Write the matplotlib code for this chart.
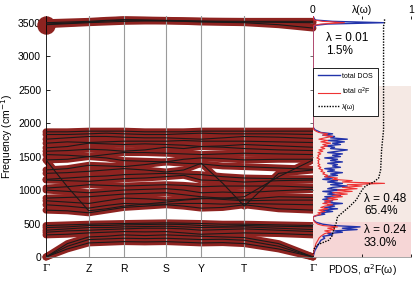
import numpy as np
import matplotlib
matplotlib.use('Agg')
import matplotlib.pyplot as plt

# ---------------- data ----------------
kpoint_labels = ['Γ', 'Z', 'R', 'S', 'Y', 'T', 'Γ']
segment_lengths = [42.7, 35.0, 42.3, 35.3, 43.0, 68.7]

# band values (cm^-1) at [Γ, mid, Z, mid, R, mid, S, mid, Y, mid, T, mid, Γ]
acoustic_bands = [
    [0, 120, 210, 220, 230, 225, 230, 220, 210, 215, 200, 120, 0],
    [0, 160, 260, 270, 280, 275, 280, 270, 260, 265, 250, 160, 0],
    [0, 200, 300, 310, 330, 320, 330, 320, 310, 300, 290, 200, 0],
]
low_bands = [
    [330, 340, 360, 370, 380, 375, 380, 360, 340, 350, 360, 350, 330],
    [370, 390, 400, 410, 420, 430, 430, 420, 400, 410, 420, 400, 380],
    [400, 420, 440, 440, 450, 455, 460, 450, 440, 445, 450, 430, 410],
    [440, 450, 470, 470, 480, 485, 490, 485, 470, 460, 470, 460, 450],
    [470, 480, 490, 495, 500, 505, 510, 505, 500, 490, 490, 480, 470],
]
mid_bands = [
    [700, 690, 660, 700, 740, 760, 780, 760, 730, 740, 780, 720, 700],
    [780, 760, 730, 770, 800, 790, 790, 800, 800, 790, 800, 790, 780],
    [840, 820, 800, 840, 880, 870, 850, 860, 880, 860, 840, 850, 850],
    [880, 890, 900, 920, 940, 950, 960, 930, 900, 880, 860, 900, 890],
    [1000, 980, 960, 980, 1000, 1010, 1020, 1000, 960, 970, 960, 990, 1010],
    [1030, 1050, 1080, 1070, 1060, 1070, 1080, 1070, 1050, 1060, 1060, 1060, 1040],
    [1450, 1050, 690, 720, 760, 790, 820, 850, 870, 880, 900, 1200, 1450],
    [1150, 1140, 1130, 1150, 1170, 1180, 1200, 1220, 1150, 1140, 1120, 1140, 1150],
    [1160, 1180, 1200, 1210, 1230, 1240, 1250, 1240, 1230, 1200, 1180, 1170, 1170],
    [1250, 1260, 1280, 1300, 1320, 1300, 1270, 1300, 1400, 1100, 760, 1250, 1300],
    [1300, 1320, 1370, 1360, 1350, 1380, 1420, 1400, 1390, 1360, 1350, 1330, 1310],
    [1450, 1460, 1500, 1480, 1440, 1430, 1420, 1460, 1480, 1470, 1450, 1460, 1460],
    [1530, 1520, 1500, 1530, 1560, 1560, 1550, 1540, 1530, 1540, 1550, 1540, 1530],
    [1580, 1590, 1610, 1600, 1580, 1600, 1640, 1620, 1650, 1640, 1620, 1600, 1590],
    [1630, 1650, 1700, 1690, 1680, 1690, 1680, 1670, 1650, 1660, 1680, 1660, 1640],
    [1700, 1720, 1710, 1720, 1730, 1730, 1730, 1740, 1730, 1730, 1730, 1720, 1710],
    [1760, 1780, 1800, 1800, 1790, 1780, 1780, 1770, 1760, 1780, 1800, 1790, 1770],
    [1830, 1830, 1840, 1850, 1840, 1830, 1830, 1840, 1850, 1840, 1840, 1840, 1830],
    [1870, 1870, 1880, 1880, 1880, 1870, 1870, 1870, 1880, 1880, 1880, 1880, 1880],
]
high_bands = [
    [3470, 3485, 3500, 3510, 3520, 3525, 3525, 3520, 3510, 3505, 3500, 3470, 3420],
    [3480, 3495, 3510, 3525, 3540, 3535, 3530, 3525, 3520, 3515, 3510, 3505, 3500],
    [3500, 3510, 3520, 3535, 3545, 3540, 3535, 3530, 3525, 3522, 3520, 3520, 3520],
]

pdos_freq = [0, 50, 100, 150, 200, 250, 280, 310, 330, 350, 370, 390, 410, 430, 450, 470, 490, 520, 560, 600,
             620, 640, 660, 680, 700, 720, 740, 760, 780, 800, 820, 840, 860, 880, 900, 920, 940, 960, 980, 1000,
             1020, 1040, 1060, 1080, 1100, 1120, 1140, 1160, 1180, 1200, 1220, 1240, 1260, 1280, 1300, 1320, 1340, 1360, 1380, 1400,
             1420, 1440, 1460, 1480, 1500, 1520, 1540, 1560, 1580, 1600, 1620, 1640, 1660, 1680, 1700, 1720, 1740, 1760, 1780, 1800,
             1820, 1840, 1860, 1880, 1900, 1940, 3400, 3460, 3480, 3500, 3520, 3540, 3600]
total_dos = [0, 0.01, 0.02, 0.04, 0.06, 0.08, 0.12, 0.10, 0.20, 0.15, 0.30, 0.22, 0.45, 0.30, 0.48, 0.20, 0.10, 0.03, 0, 0,
             0.04, 0.12, 0.08, 0.20, 0.10, 0.25, 0.12, 0.22, 0.15, 0.30, 0.12, 0.20, 0.10, 0.18, 0.12, 0.28, 0.15, 0.22, 0.10, 0.30,
             0.15, 0.20, 0.35, 0.18, 0.30, 0.15, 0.25, 0.10, 0.20, 0.12, 0.25, 0.18, 0.30, 0.15, 0.22, 0.12, 0.28, 0.20, 0.25, 0.15,
             0.30, 0.18, 0.25, 0.12, 0.28, 0.20, 0.30, 0.15, 0.25, 0.35, 0.18, 0.22, 0.12, 0.28, 0.20, 0.32, 0.15, 0.35, 0.18, 0.22,
             0.10, 0.20, 0.08, 0.05, 0.02, 0, 0, 0.02, 0.15, 0.72, 0.20, 0.02, 0]
total_a2f = [0, 0.005, 0.01, 0.02, 0.03, 0.05, 0.06, 0.08, 0.10, 0.12, 0.18, 0.12, 0.22, 0.15, 0.25, 0.10, 0.05, 0.02, 0, 0,
             0.03, 0.08, 0.05, 0.12, 0.06, 0.15, 0.08, 0.12, 0.20, 0.10, 0.18, 0.12, 0.25, 0.15, 0.30, 0.20, 0.35, 0.20, 0.40, 0.25,
             0.45, 0.30, 0.50, 0.35, 0.73, 0.30, 0.40, 0.20, 0.25, 0.12, 0.15, 0.10, 0.12, 0.08, 0.10, 0.06, 0.08, 0.05, 0.07, 0.05,
             0.06, 0.05, 0.07, 0.04, 0.06, 0.05, 0.08, 0.05, 0.10, 0.06, 0.12, 0.08, 0.15, 0.10, 0.18, 0.08, 0.15, 0.06, 0.12, 0.20,
             0.10, 0.15, 0.06, 0.03, 0.01, 0, 0, 0.01, 0.08, 0.32, 0.10, 0.01, 0]

lambda_freq = [0, 100, 180, 250, 300, 350, 400, 450, 500, 600, 700, 750, 850, 950, 1000, 1050, 1080, 1120, 1180,
               1300, 1600, 1900, 3450, 3500, 3550]
lambda_cum = [0, 0.0, 0.04, 0.16, 0.19, 0.20, 0.21, 0.22, 0.235, 0.25, 0.33, 0.37, 0.44, 0.48, 0.50, 0.53, 0.56, 0.62, 0.67,
              0.69, 0.70, 0.72, 0.72, 0.73, 0.73]

region_bounds = [0, 530, 2550]
region_colors = ['#F6D6D6', '#F5E9E4']
region_texts = ['λ = 0.24\n33.0%', 'λ = 0.48\n65.4%', 'λ = 0.01\n1.5%']

assert len(pdos_freq) == len(total_dos) == len(total_a2f)

# ---------------- figure ----------------
W, H = 415, 283
fig = plt.figure(figsize=(W / 100, H / 100), dpi=100)
plt.rcParams['font.family'] = ['Liberation Sans', 'DejaVu Sans']
fs = 7.5
fs_lam = 8.5

ax = fig.add_axes([46 / W, 26 / H, 267 / W, 241 / H])
ax2 = fig.add_axes([313 / W, 26 / H, 98 / W, 241 / H])
ax2.patch.set_alpha(0)

# k path
hs = np.concatenate([[0], np.cumsum(segment_lengths)])
kx = []
for i in range(len(segment_lengths)):
    kx += [hs[i], 0.5 * (hs[i] + hs[i + 1])]
kx.append(hs[-1])
kx = np.array(kx)

red = '#8E2320'
all_bands = acoustic_bands + low_bands + mid_bands + high_bands
for b in all_bands:
    ax.plot(kx, b, color=red, lw=5.0, solid_capstyle='round', solid_joinstyle='round', zorder=2, clip_on=False)
for x in hs[1:-1]:
    ax.axvline(x, color='#9a9a9a', lw=0.8, zorder=2.5)
for b in all_bands:
    ax.plot(kx, b, color='#1a1a1a', lw=0.8, zorder=3)
ax.scatter([kx[0]], [high_bands[0][0]], s=150, color=red, zorder=2, clip_on=False)

ax.set_xlim(hs[0], hs[-1])
ax.set_ylim(0, 3600)
ax.set_xticks(hs)
ax.set_xticklabels(kpoint_labels, fontsize=fs)
for t, lab in zip(ax.get_xticklabels(), kpoint_labels):
    if lab == 'Γ':
        t.set_family('DejaVu Serif')
ax.tick_params(axis='x', length=0, pad=5)
ax.set_yticks(range(0, 3501, 500))
ax.tick_params(axis='y', direction='in', length=3, labelsize=fs, width=0.6)
ax.set_ylabel('Frequency (cm$^{-1}$)', fontsize=fs, labelpad=2)
ax.spines['top'].set_visible(False)
ax.spines['right'].set_visible(False)
for s in ['left', 'bottom']:
    ax.spines[s].set_linewidth(0.6)
ax.spines['bottom'].set_color('#777777')

# right panel
ax2.axhspan(region_bounds[0], region_bounds[1], color=region_colors[0], lw=0, zorder=0)
ax2.axhspan(region_bounds[1], region_bounds[2], color=region_colors[1], lw=0, zorder=0)
ax2.plot(total_dos, pdos_freq, color='#2233AA', lw=1.0, label='total DOS', zorder=3)
ax2.plot(total_a2f, pdos_freq, color='#EE3333', lw=0.8, label='total α$^2$F', zorder=4)
ax2.plot(lambda_cum, lambda_freq, color='black', lw=1.0, ls=(0, (1, 1)), label='λ(ω)', zorder=5)
ax2.set_xlim(0, 1)
ax2.set_ylim(0, 3600)
ax2.set_yticks(range(0, 3501, 500))
ax2.tick_params(axis='y', direction='out', length=2, labelleft=False, width=0.6, color='#555555')
ax2.set_xticks([0, 0.5, 1])
ax2.xaxis.set_ticks_position('both')
ax2.tick_params(axis='x', top=True, labeltop=True, labelbottom=False, direction='in', length=2, labelsize=fs, pad=1, width=0.6)
ax2.set_xticklabels(['0', 'λ(ω)', '1'])
ax2.set_xlabel('PDOS, α$^2$F(ω)', fontsize=fs, labelpad=4)
for s in ['top', 'right', 'left']:
    ax2.spines[s].set_visible(False)
ax2.spines['bottom'].set_color('#999999')
ax2.spines['bottom'].set_linewidth(0.6)

ax2.text(0.52, 960, region_texts[1], fontsize=fs_lam, va='top', ha='left', linespacing=1.05, zorder=6)
ax2.text(0.52, 490, region_texts[0], fontsize=fs_lam, va='top', ha='left', linespacing=1.05, zorder=6)
ax2.text(0.13, 3360, region_texts[2], fontsize=fs_lam, va='top', ha='left', linespacing=1.05, zorder=6)

leg = ax2.legend(loc='upper left', bbox_to_anchor=(0.0, 0.784), fontsize=5, frameon=True, fancybox=False,
                 borderaxespad=0, handlelength=3.2, handletextpad=0.3, borderpad=0.7, labelspacing=0.9)
leg.get_frame().set_edgecolor('black')
leg.get_frame().set_linewidth(0.6)
leg.get_frame().set_facecolor('white')
leg.get_frame().set_alpha(1)
leg.set_zorder(7)

fig.savefig('out.png', dpi=100)
